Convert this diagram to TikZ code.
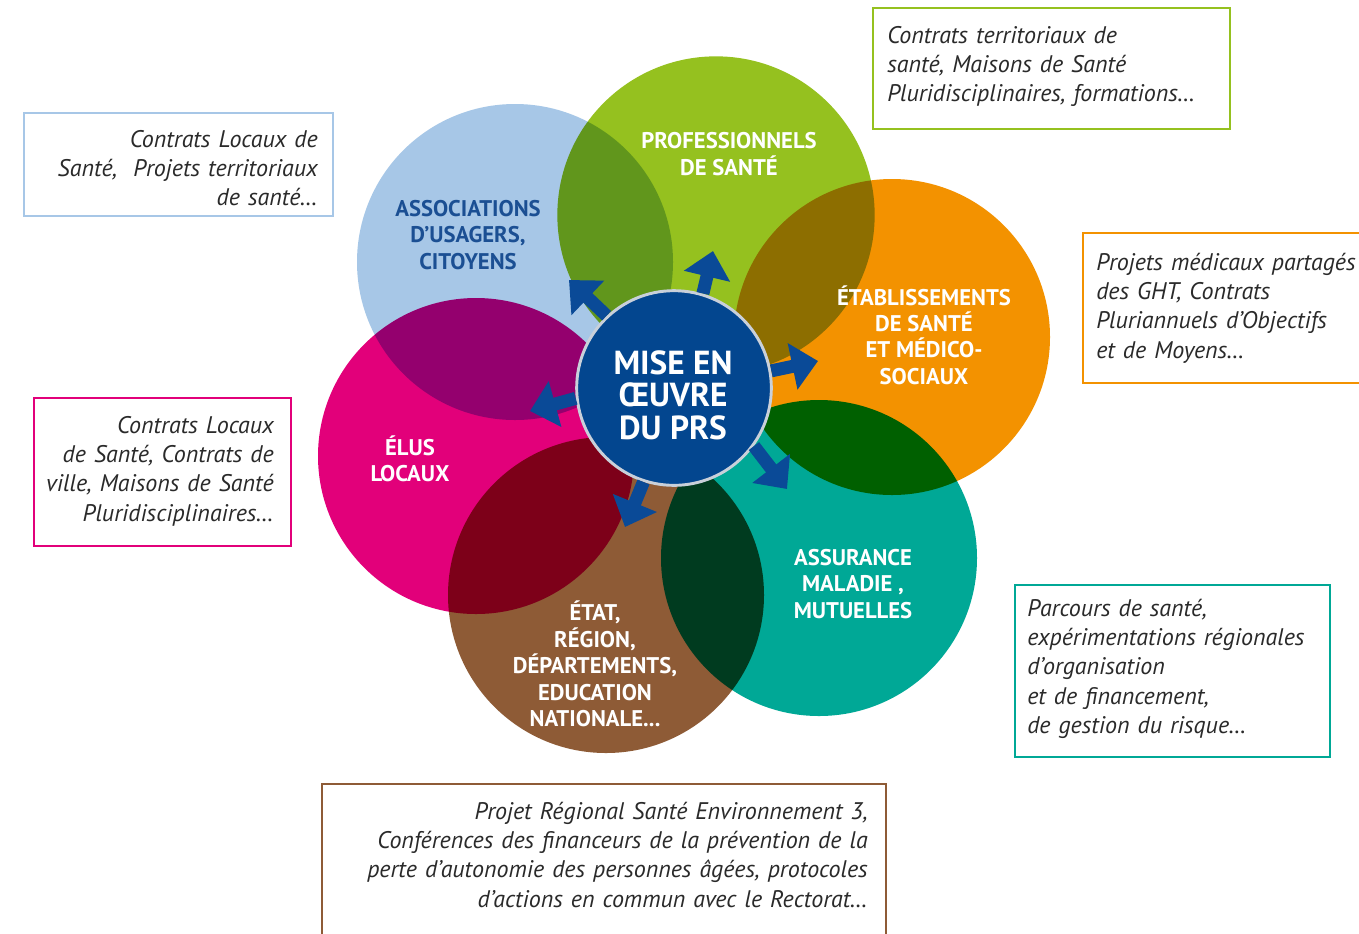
\documentclass[tikz,border=0pt]{standalone}
\usepackage{fontspec}
\setmainfont{PT Sans}
\usetikzlibrary{arrows.meta}
\definecolor{cblue}{HTML}{A7C7E7}
\definecolor{cgreen}{HTML}{95C11F}
\definecolor{corange}{HTML}{F39200}
\definecolor{cteal}{HTML}{00A896}
\definecolor{cbrown}{HTML}{8E5B36}
\definecolor{cmagenta}{HTML}{E2007A}
\definecolor{navy}{HTML}{03468F}
\definecolor{arrowblue}{HTML}{0A4A97}
\definecolor{ringgrey}{HTML}{C9D0DA}
\definecolor{assoctext}{HTML}{1B4F93}
\definecolor{txt}{HTML}{2A2A2A}
\begin{document}
\begin{tikzpicture}[x=0.75pt,y=-0.75pt,
  disc/.style={fill=#1},
  lbl/.style={text=white, align=center, inner sep=0pt, font=\bfseries\fontsize{17}{19.8}\selectfont},
  infobox/.style={draw=#1, line width=1.9pt},
  boxtext/.style={text=txt, inner sep=0pt, text width=#1, font=\itshape\fontsize{18}{22}\selectfont},
  arr/.style={arrowblue, line width=9.75pt, -{Triangle[length=19.5pt,width=34.5pt]}}
]
\fill[white] (0,0) rectangle (1359,933);
\useasboundingbox (0,0) rectangle (1359,933);

% petals
\begin{scope}[blend group=multiply]
  \fill[disc=cblue]    (515,262) circle[radius=118.5pt];
  \fill[disc=cgreen]   (716,215) circle[radius=119pt];
  \fill[disc=corange]  (892,337) circle[radius=118.5pt];
  \fill[disc=cteal]    (819,558) circle[radius=118.5pt];
  \fill[disc=cbrown]   (606,595) circle[radius=118.5pt];
  \fill[disc=cmagenta] (476,456) circle[radius=118.5pt];
\end{scope}

% petal labels
\node[lbl, text=assoctext] (assoc) at (468,235) {ASSOCIATIONS\\D’USAGERS,\\CITOYENS};
\node[lbl] (prof)  at (729,154) {PROFESSIONNELS\\DE SANTÉ};
\node[lbl] (etab)  at (924,335) {ÉTABLISSEMENTS\\DE SANTÉ\\ET MÉDICO-\\SOCIAUX};
\node[lbl] (elus)  at (410,459) {ÉLUS\\LOCAUX};
\node[lbl] (assur) at (853,584) {ASSURANCE\\MALADIE ,\\MUTUELLES};
\node[lbl] (etat)  at (595,664) {ÉTAT,\\RÉGION,\\DÉPARTEMENTS,\\EDUCATION\\NATIONALE...};

% centre
\node[circle, fill=navy, draw=ringgrey, line width=2.2pt, minimum size=146pt, inner sep=0pt] (c) at (674,388) {};
\node[text=white, align=center, inner sep=0pt, font=\bfseries\fontsize{25}{24.4}\selectfont] (ct) at (673,395)
      {MISE EN\\ŒUVRE\\DU PRS};

% arrows
\coordinate (t1) at (569,280);
\coordinate (t2) at (713,251);
\coordinate (t3) at (818,361);
\coordinate (t4) at (787,489);
\coordinate (t5) at (625,527);
\coordinate (t6) at (530,411);
\draw[arr] (c.133.5) -- (t1);
\draw[arr] (c.73.7) -- (t2);
\draw[arr] (c.10.4) -- (t3);
\draw[arr] (c.-36.8) -- (t4);
\draw[arr] (c.252.3) -- (t5);
\draw[arr] (c.186.5) -- (t6);

% info boxes
\draw[infobox=cblue] (24,113) rectangle (333,216);
\node[boxtext=225pt, align=right, anchor=base east] (b1) at (318,147)
  {Contrats Locaux de\\Santé,~ Projets territoriaux\\de santé…};

\draw[infobox=cgreen] (873,8) rectangle (1230,129);
\node[boxtext=260pt, align=left, anchor=base west] (b2) at (887,43)
  {Contrats territoriaux de\\santé, Maisons de Santé\\Pluridisciplinaires, formations…};

\draw[infobox=corange] (1083,233) rectangle (1400,383);
\node[boxtext=240pt, align=left, anchor=base west] (b3) at (1096,270)
  {Projets médicaux partagés\\des GHT, Contrats\\Pluriannuels d’Objectifs\\et de Moyens…};

\draw[infobox=cmagenta] (34,398) rectangle (291,546);
\node[boxtext=190pt, align=right, anchor=base east] (b4) at (274,433)
  {Contrats Locaux\\de Santé, Contrats de\\ville, Maisons de Santé\\Pluridisciplinaires…};

\draw[infobox=cteal] (1015,585) rectangle (1330,757);
\node[boxtext=230pt, align=left, anchor=base west] (b5) at (1027,616)
  {Parcours de santé,\\expérimentations régionales\\d’organisation\\et de financement,\\de gestion du risque…};

\draw[infobox=cbrown] (322,784) rectangle (886,960);
\node[boxtext=400pt, align=right, anchor=base east] (b6) at (868,819)
  {Projet Régional Santé Environnement 3,\\Conférences des financeurs de la prévention de la\\perte d’autonomie des personnes âgées, protocoles\\d’actions en commun avec le Rectorat…};
\end{tikzpicture}
\end{document}
